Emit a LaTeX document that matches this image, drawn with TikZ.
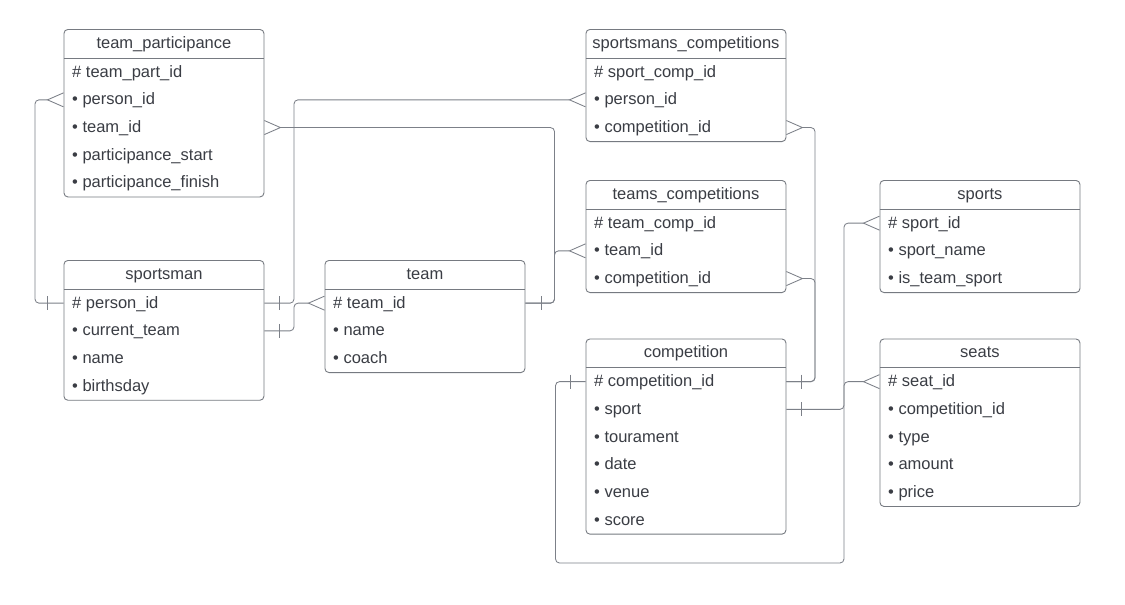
\documentclass[tikz,border=0pt]{standalone}
\usepackage{fontspec}
\setmainfont{Liberation Sans}
\usetikzlibrary{calc}
\definecolor{txt}{HTML}{3A3D44}
\definecolor{bord}{HTML}{767A81}
\definecolor{lnk}{HTML}{7C8088}
\tikzset{
 tbox/.style={draw=bord, line width=0.9pt, rounded corners=4pt, anchor=north west, minimum width=200pt, inner sep=0pt, fill=white},
 hdr/.style={text=txt, font=\fontsize{16.5}{19}\selectfont, inner sep=0pt, text height=12pt, text depth=2pt},
 rowtxt/.style={text=txt, font=\fontsize{16.5}{19}\selectfont, anchor=west, inner sep=0pt, text height=12pt, text depth=2pt},
 hline/.style={draw=bord, line width=0.9pt},
 conn/.style={draw=lnk, line width=0.85pt, rounded corners=4pt},
 tipl/.style={draw=lnk, line width=0.85pt},
}
\newcommand\ertab[6]{%
 \node[tbox, minimum height={29+27.7*#4}] (#1) at (#2,#3) {};
 \node[hdr] (#1-h) at ($(#1.north)+(0,14)$) {#5};
 \draw[hline] ($(#1.north west)+(0,29)$) -- ($(#1.north east)+(0,29)$);
 \foreach \r [count=\i] in {#6} {
  \node[rowtxt] (#1-\i) at ($(#1.north west)+(8.5,{29.3+27.7*(\i-0.5)})$) {\r};
 }
}
\newcommand\crowft[2]{\draw[tipl] ($(#1)+(0,-7)$) -- ($(#1)+(#2,0)$) -- ($(#1)+(0,7)$);}
\newcommand\mybar[2]{\draw[tipl] ($(#1)+(#2,-7)$) -- ($(#1)+(#2,7)$);}
\begin{document}
\begin{tikzpicture}[x=1pt,y=-1pt]
\fill[white] (0,0) rectangle (1125,605);
\useasboundingbox (0,0) rectangle (1125,605);

\ertab{tp}{63.5}{29}{5}{team\_participance}{\# team\_part\_id, • person\_id, • team\_id, • participance\_start, • participance\_finish}
\ertab{sm}{63.5}{260}{4}{sportsman}{\# person\_id, • current\_team, • name, • birthsday}
\ertab{tm}{324.5}{260}{3}{team}{\# team\_id, • name, • coach}
\ertab{sc}{585.5}{29}{3}{sportsmans\_competitions}{\# sport\_comp\_id, • person\_id, • competition\_id}
\ertab{tc}{585.5}{180}{3}{teams\_competitions}{\# team\_comp\_id, • team\_id, • competition\_id}
\ertab{sp}{879.5}{180}{3}{sports}{\# sport\_id, • sport\_name, • is\_team\_sport}
\ertab{cp}{585.5}{338.5}{6}{competition}{\# competition\_id, • sport, • tourament, • date, • venue, • score}
\ertab{st}{879.5}{338.5}{5}{seats}{\# seat\_id, • competition\_id, • type, • amount, • price}

% lanes
\coordinate (L1) at (35,0);
\coordinate (L2) at (554.5,0);
\coordinate (L3) at (294,0);
\coordinate (L4) at (815,0);
\coordinate (L5) at (844,0);
\coordinate (L6) at (555.5,0);
\coordinate (Lb) at (0,563);

% end points
\coordinate (a1) at (tp.west |- tp-2);
\coordinate (a2) at (sm.west |- sm-1);
\coordinate (b1) at (tp.east |- tp-3);
\coordinate (b2) at (tm.east |- tm-1);
\coordinate (c1) at (sc.west |- sc-2);
\coordinate (c2) at (sm.east |- sm-1);
\coordinate (d1) at (sm.east |- sm-2);
\coordinate (d2) at (tm.west |- tm-1);
\coordinate (e1) at (tc.west |- tc-2);
\coordinate (f1) at (sc.east |- sc-3);
\coordinate (f2) at (cp.east |- cp-1);
\coordinate (g1) at (tc.east |- tc-3);
\coordinate (h1) at (cp.east |- cp-2);
\coordinate (h2) at (sp.west |- sp-1);
\coordinate (i1) at (st.west |- st-1);
\coordinate (i2) at (cp.west |- cp-1);

% C1 team_participance.person_id -- sportsman.person_id
\draw[conn] ($(a1)+(-16,0)$) -| (L1 |- a2) -- (a2);
\crowft{a1}{-16}
\mybar{a2}{-16}
% C2 team_participance.team_id -- team.team_id
\draw[conn] ($(b1)+(16,0)$) -| (L2 |- b2) -- (b2);
\crowft{b1}{16}
\mybar{b2}{16}
% C3 sportsmans_competitions.person_id -- sportsman.person_id
\draw[conn] ($(c1)+(-16,0)$) -| (L3 |- c2) -- (c2);
\crowft{c1}{-16}
\mybar{c2}{15.5}
% C4 sportsman.current_team -- team.team_id
\draw[conn] (d1) -| (L3 |- d2) -- ($(d2)+(-16,0)$);
\mybar{d1}{15.5}
\crowft{d2}{-16}
% C5 teams_competitions.team_id -- team.team_id
\draw[conn] ($(e1)+(-16,0)$) -| (L2 |- b2) -- (b2);
\crowft{e1}{-16}
% C6 sportsmans_competitions.competition_id -- competition.competition_id
\draw[conn] ($(f1)+(16,0)$) -| (L4 |- f2) -- (f2);
\crowft{f1}{16}
\mybar{f2}{15.5}
% C7 teams_competitions.competition_id -- competition.competition_id
\draw[conn] ($(g1)+(16,0)$) -| (L4 |- f2) -- (f2);
\crowft{g1}{16}
% C8 competition.sport -- sports.sport_id
\draw[conn] (h1) -| (L5 |- h2) -- ($(h2)+(-16,0)$);
\mybar{h1}{15.5}
\crowft{h2}{-16}
% C9 seats.seat_id -- competition.competition_id
\draw[conn] ($(i1)+(-16,0)$) -| (L5 |- Lb) -| (L6 |- i2) -- (i2);
\crowft{i1}{-16}
\mybar{i2}{-15.5}
\end{tikzpicture}
\end{document}
